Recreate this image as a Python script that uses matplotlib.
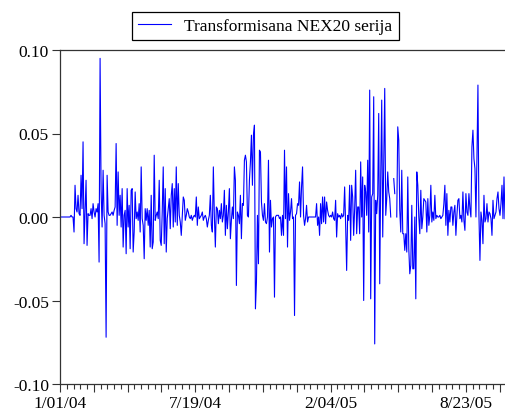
import numpy as np
import matplotlib.pyplot as plt
from matplotlib.ticker import MultipleLocator

# transformed NEX20 series, values in thousandths left to right
part1 = [0, 0, 0, 0, 0, 0, 0, 0, 0, 0, 0, 1, 0, 0,
         -9, 19, 5, 3, 13, 2, 1, 25, 5, 45, -16, 3, 22, -17, 2, 1, 1, 5, -1, 8,
         3, 0, 5, 3, 8, -27, 95, 16, -6, 28, 1, -4, -72, 25, 3, 1, 1, 2, 3, 1,
         4, 6, 44, -5, 27, 1, 13, -6, 17, -18, 1, 4, -22, 17, -6, 7, -19, 16, 17]
part2 = [-21, -9, 15, -1, 3, -2, 8, -9, 30, -1, -5, -25, 5, -2, 5, -5, 4, -18, 13, -19,
         -15, 37, -2, 1, 3, -1, 22, -14, -17, 3, 30, -16, 17, -21, -1, 5, 11, -7, 13, 20,
         -6, 17, -3, 30, -5, 20, 1, -3, -11, 1, 12, 10, -2, 1, 5, 3, 0, -1, 1, -2,
         0, 1, 0, 12, -5, 6, -1, 0, 1, 3, -2, 0, 1]
part3 = [-1, -6, -2, 1, 13, -5, -9, 30, 1, -18, 6, 5, -4, 4, -1, 8, -3, 1, 16, -11,
         7, -7, 3, 17, -13, -2, 6, -1, 30, 22, -41, 3, 1, -4, 13, -13, 8, 7, 34, 37,
         33, 1, 0, 22, 33, 49, 19, 49, 55, -55, -39, 1, -28, 40, 39, 9, 1, -2, 8, -3,
         -4, 0, 34, -21, 10, -6, -1, 0, -48, 0, 1, 1, 1]
part4 = [-1, 0, -11, 1, -11, 40, -1, 30, -18, 14, -2, 3, 11, -1, 0, -59, 1, 2, 8, 7,
         21, 0, 18, 30, 1, -5, -1, 7, -3, 0, 0, 0, 0, 0, 0, 0, 0, 8, -5, 0,
         -11, 8, -4, 12, -3, 12, -4, 9, 4, 1, 0, 1, 0, 3, -1, -2, 10, -12, 2, 0,
         1, -1, 2, 0, 1, 18, -5, -32, 1, -2, 19, -14, 19]
part5 = [12, -11, 5, 28, -10, 6, 6, -10, 33, 0, 24, -50, 19, 15, 1, 34, -9, 76, -49, 12,
         14, 72, -76, 10, 2, 13, 62, -40, 24, 70, -12, 32, 77, 1, 11, 27, 15, 11, 0, np.nan,
         np.nan, 23, 14, np.nan, 0, 54, 46, 4, -9, 28, -10, -10, -20, -10, -21, 24, -19, -34, -29, 7,
         -31, -31, 0, -49, 27, 19, 0, -10, 16, -7, 0, 11, 10]
part6 = [9, -9, 11, -5, 1, 19, -3, 3, -2, 13, -1, 1, 0, 0, 1, -1, 0, 1, 8, 19,
         -5, 14, -11, 4, -3, 6, 6, -5, 3, 7, -11, 1, 10, 11, -1, 1, -3, 15, -2, -8,
         14, 3, 1, 14, 5, 0, 42, 52, 35, 29, 0, 35, 79, 1, -26, 3, -2, -16, 13, -3,
         -1, 8, -3, 3, 2, -1, -11, 10, -1, 1, 3, 11, 15, 5, 1, 8, 19, -1, 24, -1]

date_labels = ["1/01/04", "7/19/04", "2/04/05", "8/23/05"]
label_every = 135   # observations between dated labels
y_ticks = [-0.10, -0.05, 0.00, 0.05, 0.10]
y_labels = ["-0.10", "-0.05", "0.00", "0.05", "0.10"]

plt.rcParams['font.family'] = ['Liberation Serif', 'DejaVu Serif']
plt.rcParams['font.size'] = 12.5

values = np.array(part1 + part2 + part3 + part4 + part5 + part6, dtype=float) / 1000
obs = np.arange(len(values))

fig = plt.figure(figsize=(5.05, 4.14), dpi=100)
ax = fig.add_axes([60 / 505, 29 / 414, 445 / 505, 334 / 414])

ax.plot(obs, values, color='#0000ff', lw=0.8, label="Transformisana NEX20 serija")

ax.set_xlim(0, len(values) - 1)
ax.set_ylim(-0.1, 0.1)

major = np.arange(0, len(values), label_every / 4)
ax.set_xticks(major)
ax.set_xticklabels([date_labels[i // 4] if i % 4 == 0 else "" for i in range(len(major))])
ax.xaxis.set_minor_locator(MultipleLocator(label_every / 20))
ax.set_yticks(y_ticks)
ax.set_yticklabels(y_labels)

ax.tick_params(which='major', direction='out', length=6, width=0.8, pad=2, color='#333333')
ax.tick_params(which='minor', direction='out', length=3.5, width=0.8, color='#333333')
ax.spines['right'].set_visible(False)
for s in ['left', 'top', 'bottom']:
    ax.spines[s].set_linewidth(0.9)
    ax.spines[s].set_color('#333333')

leg = fig.legend(loc='center', bbox_to_anchor=(0.525, 0.935), fancybox=False,
                 edgecolor='black', handlelength=1.9, borderpad=0.35, framealpha=1)
leg.get_frame().set_linewidth(0.9)

fig.savefig("out.png", dpi=100)
